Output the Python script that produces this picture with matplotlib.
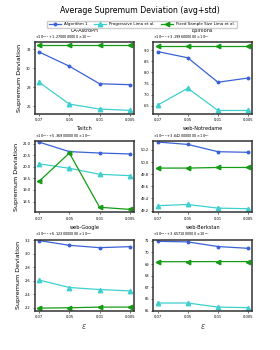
import numpy as np
import matplotlib
matplotlib.use('Agg')
import matplotlib.pyplot as plt

# 横轴: epsilon
eps_labels = ['0.07', '0.05', '0.01', '0.005']

# 每个数据集的名字和坐标轴偏移文本
datasets = ['CA-AstroPH', 'Epinions', 'Twitch', 'web-Notredame', 'web-Google', 'web-Berkstan']
offsets = [r'$\times10^{-11}+1.2700000000\times10^{-5}$',
           r'$\times10^{-10}+3.1996000000\times10^{-7}$',
           r'$\times10^{-11}+5.3690000000\times10^{-7}$',
           r'$\times10^{-10}+3.6420000000\times10^{-7}$',
           r'$\times10^{-11}+6.1230000000\times10^{-8}$',
           r'$\times10^{-11}+3.6571000000\times10^{-7}$']

# 数值 (以偏移后的刻度单位)
algo1 = [[31.7, 30.2, 28.35, 28.25],
         [8.94, 8.66, 7.56, 7.75],
         [21.07, 20.66, 20.6, 20.56],
         [50.33, 50.29, 50.17, 50.16],
         [3.195, 3.125, 3.09, 3.105],
         [70.95, 70.9, 70.5, 70.35]]
progressive = [[28.5, 26.2, 25.68, 25.54],
               [6.53, 7.29, 6.29, 6.29],
               [20.13, 19.94, 19.68, 19.62],
               [49.28, 49.30, 49.24, 49.23],
               [2.61, 2.50, 2.47, 2.45],
               [65.65, 65.65, 65.3, 65.25]]
fixed = [[32.42, 32.42, 32.42, 32.42],
         [9.21, 9.21, 9.21, 9.21],
         [19.38, 20.6, 18.25, 18.16],
         [49.90, 49.90, 49.91, 49.91],
         [2.195, 2.20, 2.21, 2.21],
         [69.2, 69.2, 69.21, 69.21]]

ylims = [(25.2, 32.76), (6.15, 9.37), (18.03, 21.13), (49.17, 50.35), (2.15, 3.21), (64.95, 71.1)]
yticks = [[26, 28, 30, 32],
          [6.5, 7.0, 7.5, 8.0, 8.5, 9.0],
          [18.5, 19.0, 19.5, 20.0, 20.5, 21.0],
          [49.2, 49.4, 49.6, 49.8, 50.0, 50.2],
          [2.2, 2.4, 2.6, 2.8, 3.0, 3.2],
          [65, 66, 67, 68, 69, 70, 71]]
ytick_fmt = ['%d', '%.1f', '%.1f', '%.1f', '%.1f', '%d']

c_algo = '#3a62d6'
c_prog = '#3fcfcf'
c_fix = '#159c15'

fig, axes = plt.subplots(3, 2, figsize=(2.8, 3.5), dpi=100)
plt.subplots_adjust(left=0.125, right=0.9, bottom=0.111, top=0.88, wspace=0.2, hspace=0.38)

x = np.arange(len(eps_labels))
for i, ax in enumerate(axes.flat):
    ax.plot(x, algo1[i], color=c_algo, marker='o', markersize=1.8, lw=0.9, label='Algorithm 1')
    ax.plot(x, progressive[i], color=c_prog, marker='^', markersize=3.2, lw=0.9, label='Progressive Lima et al.')
    ax.plot(x, fixed[i], color=c_fix, marker='<', markersize=3.2, lw=0.9, label='Fixed Sample Size Lima et al.')
    ax.set_xlim(-0.14, 3.13)
    ax.set_ylim(*ylims[i])
    ax.set_xticks(x)
    ax.set_xticklabels(eps_labels)
    ax.set_yticks(yticks[i])
    ax.set_yticklabels([ytick_fmt[i] % t for t in yticks[i]])
    ax.tick_params(labelsize=2.6, length=1.5, width=0.4, pad=1.5)
    for s in ax.spines.values():
        s.set_linewidth(1.1)
        s.set_color('#333333')
    ax.set_title(datasets[i], fontsize=3.6, pad=7.5)
    ax.text(0.0, 1.015, offsets[i], transform=ax.transAxes, fontsize=2.5, ha='left', va='bottom')
    if i % 2 == 0:
        ax.set_ylabel('Supremum Deviation', fontsize=4.6, labelpad=3)
    if i >= 4:
        ax.set_xlabel(r'$\varepsilon$', fontsize=5.5, labelpad=2, color='#555555')

fig.suptitle('Average Supremum Deviation (avg+std)', fontsize=5.7, y=0.983)
h, l = axes[0, 0].get_legend_handles_labels()
fig.legend(h, l, loc='center', bbox_to_anchor=(0.507, 0.931), ncol=3, fontsize=2.9,
           frameon=True, handlelength=3, columnspacing=1.5, borderpad=0.4, framealpha=1,
           edgecolor='#cccccc', fancybox=True)

plt.savefig('out.png', dpi=100)
